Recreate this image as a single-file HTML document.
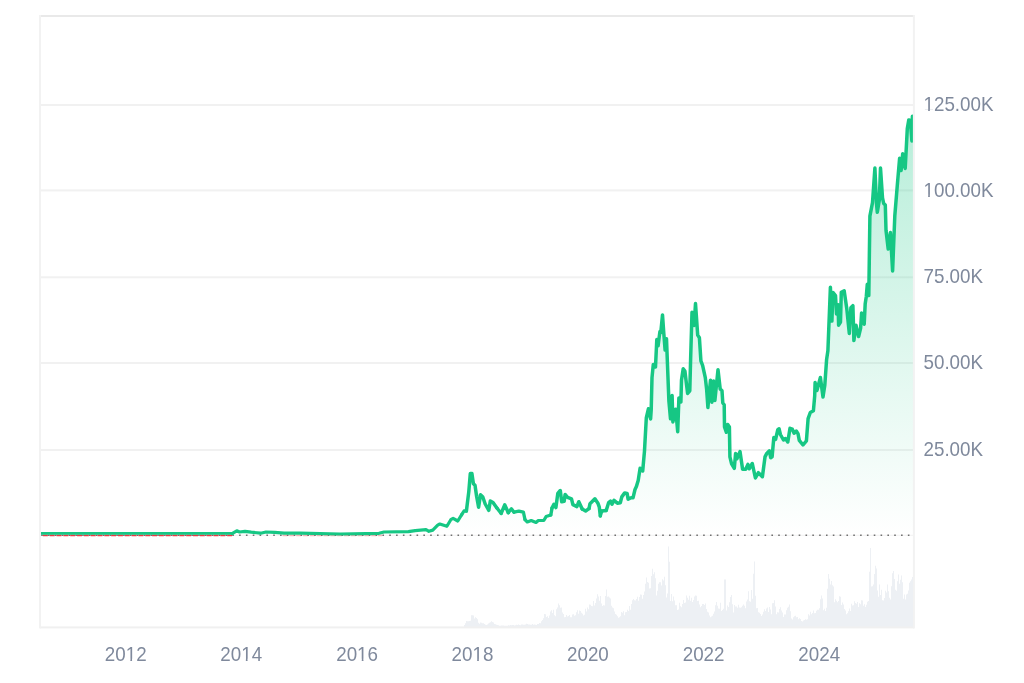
<!DOCTYPE html>
<html><head><meta charset="utf-8">
<style>
html,body{margin:0;padding:0;background:#fff;width:1024px;height:683px;overflow:hidden}
svg{display:block;font-family:"Liberation Sans",sans-serif}
.lab{will-change:transform} .lab text{fill:#7f899c;font-size:20px}
</style></head><body>
<svg width="1024" height="683" viewBox="0 0 1024 683">
<defs>
<linearGradient id="g" x1="0" y1="104" x2="0" y2="535.5" gradientUnits="userSpaceOnUse">
<stop offset="0" stop-color="#16c784" stop-opacity="0.32"/>
<stop offset="1" stop-color="#16c784" stop-opacity="0"/>
</linearGradient>
<clipPath id="c"><rect x="40" y="16" width="873.5" height="611"/></clipPath>
</defs>
<rect x="0" y="0" width="1024" height="683" fill="#fff"/>
<g fill="#f1f1f1">
<rect x="40" y="104.00" width="874" height="2"/>
<rect x="40" y="189.40" width="874" height="2"/>
<rect x="40" y="276.30" width="874" height="2"/>
<rect x="40" y="362.00" width="874" height="2"/>
<rect x="40" y="449.00" width="874" height="2"/>
</g>
<path d="M464.00,627.40V624.95H465.00V627.40ZM465.00,627.40V623.29H466.00V627.40ZM466.00,627.40V621.06H467.00V627.40ZM467.00,627.40V621.28H468.00V627.40ZM468.00,627.40V621.19H469.00V627.40ZM469.00,627.40V621.03H470.00V627.40ZM470.00,627.40V620.68H471.00V627.40ZM471.00,627.40V615.36H472.00V627.40ZM472.00,627.40V615.14H473.00V627.40ZM473.00,627.40V615.53H474.00V627.40ZM474.00,627.40V618.57H475.00V627.40ZM475.00,627.40V617.34H476.00V627.40ZM476.00,627.40V617.96H477.00V627.40ZM477.00,627.40V619.20H478.00V627.40ZM478.00,627.40V622.69H479.00V627.40ZM479.00,627.40V623.71H480.00V627.40ZM480.00,627.40V622.50H481.00V627.40ZM481.00,627.40V622.63H482.00V627.40ZM482.00,627.40V623.15H483.00V627.40ZM483.00,627.40V623.30H484.00V627.40ZM484.00,627.40V624.08H485.00V627.40ZM485.00,627.40V624.82H486.00V627.40ZM486.00,627.40V624.88H487.00V627.40ZM487.00,627.40V624.53H488.00V627.40ZM488.00,627.40V623.61H489.00V627.40ZM489.00,627.40V622.75H490.00V627.40ZM490.00,627.40V622.37H491.00V627.40ZM491.00,627.40V621.32H492.00V627.40ZM492.00,627.40V622.07H493.00V627.40ZM493.00,627.40V622.56H494.00V627.40ZM494.00,627.40V624.11H495.00V627.40ZM495.00,627.40V624.29H496.00V627.40ZM496.00,627.40V624.71H497.00V627.40ZM497.00,627.40V624.88H498.00V627.40ZM498.00,627.40V625.33H499.00V627.40ZM499.00,627.40V625.72H500.00V627.40ZM500.00,627.40V625.63H501.00V627.40ZM501.00,627.40V625.59H502.00V627.40ZM502.00,627.40V625.60H503.00V627.40ZM503.00,627.40V625.62H504.00V627.40ZM504.00,627.40V625.78H505.00V627.40ZM505.00,627.40V625.77H506.00V627.40ZM506.00,627.40V625.69H507.00V627.40ZM507.00,627.40V625.77H508.00V627.40ZM508.00,627.40V625.28H509.00V627.40ZM509.00,627.40V625.46H510.00V627.40ZM510.00,627.40V625.11H511.00V627.40ZM511.00,627.40V625.36H512.00V627.40ZM512.00,627.40V624.91H513.00V627.40ZM513.00,627.40V624.92H514.00V627.40ZM514.00,627.40V625.49H515.00V627.40ZM515.00,627.40V625.29H516.00V627.40ZM516.00,627.40V624.69H517.00V627.40ZM517.00,627.40V624.98H518.00V627.40ZM518.00,627.40V624.51H519.00V627.40ZM519.00,627.40V624.93H520.00V627.40ZM520.00,627.40V625.15H521.00V627.40ZM521.00,627.40V624.62H522.00V627.40ZM522.00,627.40V624.40H523.00V627.40ZM523.00,627.40V624.77H524.00V627.40ZM524.00,627.40V624.87H525.00V627.40ZM525.00,627.40V624.55H526.00V627.40ZM526.00,627.40V623.83H527.00V627.40ZM527.00,627.40V623.94H528.00V627.40ZM528.00,627.40V624.54H529.00V627.40ZM529.00,627.40V624.41H530.00V627.40ZM530.00,627.40V624.63H531.00V627.40ZM531.00,627.40V624.73H532.00V627.40ZM532.00,627.40V624.07H533.00V627.40ZM533.00,627.40V624.74H534.00V627.40ZM534.00,627.40V624.45H535.00V627.40ZM535.00,627.40V624.63H536.00V627.40ZM536.00,627.40V624.93H537.00V627.40ZM537.00,627.40V623.98H538.00V627.40ZM538.00,627.40V624.11H539.00V627.40ZM539.00,627.40V622.89H540.00V627.40ZM540.00,627.40V623.13H541.00V627.40ZM541.00,627.40V621.20H542.00V627.40ZM542.00,627.40V620.07H543.00V627.40ZM543.00,627.40V618.33H544.00V627.40ZM544.00,627.40V614.11H545.00V627.40ZM545.00,627.40V614.27H546.00V627.40ZM546.00,627.40V616.95H547.00V627.40ZM547.00,627.40V616.26H548.00V627.40ZM548.00,627.40V618.05H549.00V627.40ZM549.00,627.40V615.48H550.00V627.40ZM550.00,627.40V611.39H551.00V627.40ZM551.00,627.40V610.28H552.00V627.40ZM552.00,627.40V612.89H553.00V627.40ZM553.00,627.40V609.72H554.00V627.40ZM554.00,627.40V615.29H555.00V627.40ZM555.00,627.40V616.23H556.00V627.40ZM556.00,627.40V609.30H557.00V627.40ZM557.00,627.40V607.45H558.00V627.40ZM558.00,627.40V603.47H559.00V627.40ZM559.00,627.40V605.33H560.00V627.40ZM560.00,627.40V607.85H561.00V627.40ZM561.00,627.40V607.39H562.00V627.40ZM562.00,627.40V612.53H563.00V627.40ZM563.00,627.40V614.03H564.00V627.40ZM564.00,627.40V617.34H565.00V627.40ZM565.00,627.40V616.92H566.00V627.40ZM566.00,627.40V615.00H567.00V627.40ZM567.00,627.40V616.52H568.00V627.40ZM568.00,627.40V616.09H569.00V627.40ZM569.00,627.40V614.92H570.00V627.40ZM570.00,627.40V617.30H571.00V627.40ZM571.00,627.40V617.31H572.00V627.40ZM572.00,627.40V614.39H573.00V627.40ZM573.00,627.40V614.20H574.00V627.40ZM574.00,627.40V615.74H575.00V627.40ZM575.00,627.40V615.32H576.00V627.40ZM576.00,627.40V612.13H577.00V627.40ZM577.00,627.40V610.36H578.00V627.40ZM578.00,627.40V613.85H579.00V627.40ZM579.00,627.40V610.42H580.00V627.40ZM580.00,627.40V611.08H581.00V627.40ZM581.00,627.40V612.70H582.00V627.40ZM582.00,627.40V613.83H583.00V627.40ZM583.00,627.40V615.40H584.00V627.40ZM584.00,627.40V614.66H585.00V627.40ZM585.00,627.40V608.75H586.00V627.40ZM586.00,627.40V611.46H587.00V627.40ZM587.00,627.40V607.60H588.00V627.40ZM588.00,627.40V609.26H589.00V627.40ZM589.00,627.40V604.38H590.00V627.40ZM590.00,627.40V604.75H591.00V627.40ZM591.00,627.40V606.06H592.00V627.40ZM592.00,627.40V606.17H593.00V627.40ZM593.00,627.40V601.04H594.00V627.40ZM594.00,627.40V605.52H595.00V627.40ZM595.00,627.40V602.98H596.00V627.40ZM596.00,627.40V598.54H597.00V627.40ZM597.00,627.40V594.13H598.00V627.40ZM598.00,627.40V596.45H599.00V627.40ZM599.00,627.40V600.75H600.00V627.40ZM600.00,627.40V596.08H601.00V627.40ZM601.00,627.40V603.50H602.00V627.40ZM602.00,627.40V606.07H603.00V627.40ZM603.00,627.40V605.32H604.00V627.40ZM604.00,627.40V605.40H605.00V627.40ZM605.00,627.40V595.93H606.00V627.40ZM606.00,627.40V589.60H607.00V627.40ZM607.00,627.40V596.81H608.00V627.40ZM608.00,627.40V596.53H609.00V627.40ZM609.00,627.40V597.39H610.00V627.40ZM610.00,627.40V598.55H611.00V627.40ZM611.00,627.40V605.71H612.00V627.40ZM612.00,627.40V607.49H613.00V627.40ZM613.00,627.40V608.18H614.00V627.40ZM614.00,627.40V611.42H615.00V627.40ZM615.00,627.40V613.94H616.00V627.40ZM616.00,627.40V614.86H617.00V627.40ZM617.00,627.40V616.31H618.00V627.40ZM618.00,627.40V617.66H619.00V627.40ZM619.00,627.40V617.16H620.00V627.40ZM620.00,627.40V616.35H621.00V627.40ZM621.00,627.40V612.01H622.00V627.40ZM622.00,627.40V612.68H623.00V627.40ZM623.00,627.40V611.24H624.00V627.40ZM624.00,627.40V615.35H625.00V627.40ZM625.00,627.40V612.25H626.00V627.40ZM626.00,627.40V612.05H627.00V627.40ZM627.00,627.40V609.72H628.00V627.40ZM628.00,627.40V610.98H629.00V627.40ZM629.00,627.40V605.94H630.00V627.40ZM630.00,627.40V609.65H631.00V627.40ZM631.00,627.40V604.04H632.00V627.40ZM632.00,627.40V600.26H633.00V627.40ZM633.00,627.40V598.92H634.00V627.40ZM634.00,627.40V600.26H635.00V627.40ZM635.00,627.40V600.53H636.00V627.40ZM636.00,627.40V599.02H637.00V627.40ZM637.00,627.40V596.85H638.00V627.40ZM638.00,627.40V600.83H639.00V627.40ZM639.00,627.40V596.90H640.00V627.40ZM640.00,627.40V594.61H641.00V627.40ZM641.00,627.40V594.63H642.00V627.40ZM642.00,627.40V598.73H643.00V627.40ZM643.00,627.40V594.89H644.00V627.40ZM644.00,627.40V591.59H645.00V627.40ZM645.00,627.40V583.83H646.00V627.40ZM646.00,627.40V577.50H647.00V627.40ZM647.00,627.40V581.98H648.00V627.40ZM648.00,627.40V582.79H649.00V627.40ZM649.00,627.40V588.49H650.00V627.40ZM650.00,627.40V588.17H651.00V627.40ZM651.00,627.40V575.90H652.00V627.40ZM652.00,627.40V568.82H653.00V627.40ZM653.00,627.40V574.24H654.00V627.40ZM654.00,627.40V572.26H655.00V627.40ZM655.00,627.40V578.35H656.00V627.40ZM656.00,627.40V595.49H657.00V627.40ZM657.00,627.40V590.72H658.00V627.40ZM658.00,627.40V583.68H659.00V627.40ZM659.00,627.40V582.18H660.00V627.40ZM660.00,627.40V582.28H661.00V627.40ZM661.00,627.40V585.59H662.00V627.40ZM662.00,627.40V579.20H663.00V627.40ZM663.00,627.40V580.55H664.00V627.40ZM664.00,627.40V576.74H665.00V627.40ZM665.00,627.40V585.22H666.00V627.40ZM666.00,627.40V597.55H667.00V627.40ZM667.00,627.40V593.60H668.00V627.40ZM668.00,627.40V546.46H669.00V627.40ZM669.00,627.40V561.64H670.00V627.40ZM670.00,627.40V600.96H671.00V627.40ZM671.00,627.40V594.01H672.00V627.40ZM672.00,627.40V601.13H673.00V627.40ZM673.00,627.40V596.50H674.00V627.40ZM674.00,627.40V600.49H675.00V627.40ZM675.00,627.40V605.29H676.00V627.40ZM676.00,627.40V605.15H677.00V627.40ZM677.00,627.40V610.08H678.00V627.40ZM678.00,627.40V609.39H679.00V627.40ZM679.00,627.40V602.67H680.00V627.40ZM680.00,627.40V606.18H681.00V627.40ZM681.00,627.40V607.21H682.00V627.40ZM682.00,627.40V604.05H683.00V627.40ZM683.00,627.40V599.98H684.00V627.40ZM684.00,627.40V603.12H685.00V627.40ZM685.00,627.40V602.56H686.00V627.40ZM686.00,627.40V595.56H687.00V627.40ZM687.00,627.40V597.81H688.00V627.40ZM688.00,627.40V599.81H689.00V627.40ZM689.00,627.40V595.69H690.00V627.40ZM690.00,627.40V600.86H691.00V627.40ZM691.00,627.40V597.76H692.00V627.40ZM692.00,627.40V602.04H693.00V627.40ZM693.00,627.40V599.91H694.00V627.40ZM694.00,627.40V596.48H695.00V627.40ZM695.00,627.40V595.49H696.00V627.40ZM696.00,627.40V595.80H697.00V627.40ZM697.00,627.40V601.04H698.00V627.40ZM698.00,627.40V600.78H699.00V627.40ZM699.00,627.40V604.41H700.00V627.40ZM700.00,627.40V607.14H701.00V627.40ZM701.00,627.40V605.91H702.00V627.40ZM702.00,627.40V604.06H703.00V627.40ZM703.00,627.40V604.05H704.00V627.40ZM704.00,627.40V605.05H705.00V627.40ZM705.00,627.40V603.50H706.00V627.40ZM706.00,627.40V608.96H707.00V627.40ZM707.00,627.40V611.74H708.00V627.40ZM708.00,627.40V612.42H709.00V627.40ZM709.00,627.40V615.45H710.00V627.40ZM710.00,627.40V617.18H711.00V627.40ZM711.00,627.40V616.45H712.00V627.40ZM712.00,627.40V615.67H713.00V627.40ZM713.00,627.40V613.70H714.00V627.40ZM714.00,627.40V611.61H715.00V627.40ZM715.00,627.40V605.34H716.00V627.40ZM716.00,627.40V601.93H717.00V627.40ZM717.00,627.40V605.72H718.00V627.40ZM718.00,627.40V608.43H719.00V627.40ZM719.00,627.40V608.74H720.00V627.40ZM720.00,627.40V602.71H721.00V627.40ZM721.00,627.40V610.98H722.00V627.40ZM722.00,627.40V610.09H723.00V627.40ZM723.00,627.40V608.86H724.00V627.40ZM724.00,627.40V579.50H725.00V627.40ZM725.00,627.40V579.50H726.00V627.40ZM726.00,627.40V610.39H727.00V627.40ZM727.00,627.40V605.58H728.00V627.40ZM728.00,627.40V606.98H729.00V627.40ZM729.00,627.40V602.30H730.00V627.40ZM730.00,627.40V597.01H731.00V627.40ZM731.00,627.40V595.01H732.00V627.40ZM732.00,627.40V604.30H733.00V627.40ZM733.00,627.40V612.50H734.00V627.40ZM734.00,627.40V605.02H735.00V627.40ZM735.00,627.40V606.56H736.00V627.40ZM736.00,627.40V606.42H737.00V627.40ZM737.00,627.40V607.79H738.00V627.40ZM738.00,627.40V604.86H739.00V627.40ZM739.00,627.40V607.49H740.00V627.40ZM740.00,627.40V607.70H741.00V627.40ZM741.00,627.40V607.24H742.00V627.40ZM742.00,627.40V605.83H743.00V627.40ZM743.00,627.40V604.39H744.00V627.40ZM744.00,627.40V605.73H745.00V627.40ZM745.00,627.40V608.19H746.00V627.40ZM746.00,627.40V601.44H747.00V627.40ZM747.00,627.40V599.60H748.00V627.40ZM748.00,627.40V591.30H749.00V627.40ZM749.00,627.40V601.25H750.00V627.40ZM750.00,627.40V601.74H751.00V627.40ZM751.00,627.40V590.12H752.00V627.40ZM752.00,627.40V598.82H753.00V627.40ZM753.00,627.40V573.65H754.00V627.40ZM754.00,627.40V561.39H755.00V627.40ZM755.00,627.40V595.80H756.00V627.40ZM756.00,627.40V608.34H757.00V627.40ZM757.00,627.40V608.05H758.00V627.40ZM758.00,627.40V612.23H759.00V627.40ZM759.00,627.40V612.78H760.00V627.40ZM760.00,627.40V614.09H761.00V627.40ZM761.00,627.40V616.07H762.00V627.40ZM762.00,627.40V614.43H763.00V627.40ZM763.00,627.40V611.72H764.00V627.40ZM764.00,627.40V609.24H765.00V627.40ZM765.00,627.40V610.98H766.00V627.40ZM766.00,627.40V608.50H767.00V627.40ZM767.00,627.40V607.57H768.00V627.40ZM768.00,627.40V612.02H769.00V627.40ZM769.00,627.40V606.99H770.00V627.40ZM770.00,627.40V609.60H771.00V627.40ZM771.00,627.40V614.33H772.00V627.40ZM772.00,627.40V603.17H773.00V627.40ZM773.00,627.40V603.02H774.00V627.40ZM774.00,627.40V600.16H775.00V627.40ZM775.00,627.40V606.38H776.00V627.40ZM776.00,627.40V614.15H777.00V627.40ZM777.00,627.40V612.19H778.00V627.40ZM778.00,627.40V612.38H779.00V627.40ZM779.00,627.40V609.11H780.00V627.40ZM780.00,627.40V607.30H781.00V627.40ZM781.00,627.40V610.50H782.00V627.40ZM782.00,627.40V612.60H783.00V627.40ZM783.00,627.40V616.97H784.00V627.40ZM784.00,627.40V614.41H785.00V627.40ZM785.00,627.40V614.55H786.00V627.40ZM786.00,627.40V610.20H787.00V627.40ZM787.00,627.40V607.68H788.00V627.40ZM788.00,627.40V606.80H789.00V627.40ZM789.00,627.40V604.50H790.00V627.40ZM790.00,627.40V611.17H791.00V627.40ZM791.00,627.40V618.59H792.00V627.40ZM792.00,627.40V619.61H793.00V627.40ZM793.00,627.40V617.14H794.00V627.40ZM794.00,627.40V616.33H795.00V627.40ZM795.00,627.40V615.77H796.00V627.40ZM796.00,627.40V617.22H797.00V627.40ZM797.00,627.40V617.09H798.00V627.40ZM798.00,627.40V619.13H799.00V627.40ZM799.00,627.40V618.17H800.00V627.40ZM800.00,627.40V619.03H801.00V627.40ZM801.00,627.40V620.88H802.00V627.40ZM802.00,627.40V621.49H803.00V627.40ZM803.00,627.40V620.50H804.00V627.40ZM804.00,627.40V620.05H805.00V627.40ZM805.00,627.40V619.32H806.00V627.40ZM806.00,627.40V619.80H807.00V627.40ZM807.00,627.40V619.16H808.00V627.40ZM808.00,627.40V614.13H809.00V627.40ZM809.00,627.40V615.56H810.00V627.40ZM810.00,627.40V611.78H811.00V627.40ZM811.00,627.40V614.30H812.00V627.40ZM812.00,627.40V613.12H813.00V627.40ZM813.00,627.40V610.42H814.00V627.40ZM814.00,627.40V613.31H815.00V627.40ZM815.00,627.40V612.89H816.00V627.40ZM816.00,627.40V610.66H817.00V627.40ZM817.00,627.40V609.71H818.00V627.40ZM818.00,627.40V609.80H819.00V627.40ZM819.00,627.40V608.28H820.00V627.40ZM820.00,627.40V599.17H821.00V627.40ZM821.00,627.40V595.52H822.00V627.40ZM822.00,627.40V598.42H823.00V627.40ZM823.00,627.40V610.30H824.00V627.40ZM824.00,627.40V608.73H825.00V627.40ZM825.00,627.40V610.95H826.00V627.40ZM826.00,627.40V607.63H827.00V627.40ZM827.00,627.40V588.69H828.00V627.40ZM828.00,627.40V574.11H829.00V627.40ZM829.00,627.40V578.79H830.00V627.40ZM830.00,627.40V584.53H831.00V627.40ZM831.00,627.40V581.07H832.00V627.40ZM832.00,627.40V585.37H833.00V627.40ZM833.00,627.40V586.58H834.00V627.40ZM834.00,627.40V602.37H835.00V627.40ZM835.00,627.40V599.29H836.00V627.40ZM836.00,627.40V600.85H837.00V627.40ZM837.00,627.40V602.23H838.00V627.40ZM838.00,627.40V600.89H839.00V627.40ZM839.00,627.40V596.28H840.00V627.40ZM840.00,627.40V596.79H841.00V627.40ZM841.00,627.40V605.05H842.00V627.40ZM842.00,627.40V602.54H843.00V627.40ZM843.00,627.40V604.43H844.00V627.40ZM844.00,627.40V609.11H845.00V627.40ZM845.00,627.40V610.58H846.00V627.40ZM846.00,627.40V614.13H847.00V627.40ZM847.00,627.40V613.26H848.00V627.40ZM848.00,627.40V611.26H849.00V627.40ZM849.00,627.40V608.50H850.00V627.40ZM850.00,627.40V610.91H851.00V627.40ZM851.00,627.40V603.65H852.00V627.40ZM852.00,627.40V605.58H853.00V627.40ZM853.00,627.40V605.32H854.00V627.40ZM854.00,627.40V601.24H855.00V627.40ZM855.00,627.40V603.09H856.00V627.40ZM856.00,627.40V603.65H857.00V627.40ZM857.00,627.40V602.10H858.00V627.40ZM858.00,627.40V606.94H859.00V627.40ZM859.00,627.40V603.28H860.00V627.40ZM860.00,627.40V604.27H861.00V627.40ZM861.00,627.40V600.18H862.00V627.40ZM862.00,627.40V600.56H863.00V627.40ZM863.00,627.40V605.69H864.00V627.40ZM864.00,627.40V604.23H865.00V627.40ZM865.00,627.40V606.96H866.00V627.40ZM866.00,627.40V604.68H867.00V627.40ZM867.00,627.40V601.79H868.00V627.40ZM868.00,627.40V600.96H869.00V627.40ZM869.00,627.40V571.65H870.00V627.40ZM870.00,627.40V547.89H871.00V627.40ZM871.00,627.40V586.60H872.00V627.40ZM872.00,627.40V586.18H873.00V627.40ZM873.00,627.40V584.60H874.00V627.40ZM874.00,627.40V574.08H875.00V627.40ZM875.00,627.40V565.74H876.00V627.40ZM876.00,627.40V568.57H877.00V627.40ZM877.00,627.40V590.43H878.00V627.40ZM878.00,627.40V596.64H879.00V627.40ZM879.00,627.40V584.40H880.00V627.40ZM880.00,627.40V594.88H881.00V627.40ZM881.00,627.40V589.66H882.00V627.40ZM882.00,627.40V600.19H883.00V627.40ZM883.00,627.40V600.54H884.00V627.40ZM884.00,627.40V598.05H885.00V627.40ZM885.00,627.40V590.70H886.00V627.40ZM886.00,627.40V592.56H887.00V627.40ZM887.00,627.40V584.40H888.00V627.40ZM888.00,627.40V591.14H889.00V627.40ZM889.00,627.40V597.87H890.00V627.40ZM890.00,627.40V599.41H891.00V627.40ZM891.00,627.40V586.27H892.00V627.40ZM892.00,627.40V573.13H893.00V627.40ZM893.00,627.40V571.03H894.00V627.40ZM894.00,627.40V579.04H895.00V627.40ZM895.00,627.40V589.72H896.00V627.40ZM896.00,627.40V590.84H897.00V627.40ZM897.00,627.40V581.29H898.00V627.40ZM898.00,627.40V574.51H899.00V627.40ZM899.00,627.40V583.83H900.00V627.40ZM900.00,627.40V579.70H901.00V627.40ZM901.00,627.40V575.39H902.00V627.40ZM902.00,627.40V582.31H903.00V627.40ZM903.00,627.40V598.81H904.00V627.40ZM904.00,627.40V594.41H905.00V627.40ZM905.00,627.40V599.58H906.00V627.40ZM906.00,627.40V594.54H907.00V627.40ZM907.00,627.40V593.69H908.00V627.40ZM908.00,627.40V590.49H909.00V627.40ZM909.00,627.40V582.85H910.00V627.40ZM910.00,627.40V581.35H911.00V627.40ZM911.00,627.40V579.51H912.00V627.40ZM912.00,627.40V576.92H913.00V627.40Z" fill="#edf0f4"/>
<g clip-path="url(#c)">
<path d="M40.0,533.4 L100.0,533.4 L150.0,533.4 L200.0,533.4 L220.0,533.4 L232.5,533.4 L236.8,530.8 L239.5,532.0 L245.0,531.4 L251.2,532.2 L260.6,533.2 L266.0,532.0 L274.7,532.4 L284.0,533.2 L300.0,533.2 L340.0,534.0 L379.0,533.3 L384.0,532.0 L408.4,531.6 L415.2,530.6 L426.0,529.6 L428.9,531.3 L432.8,530.1 L437.7,525.1 L439.8,524.0 L446.9,526.3 L450.8,519.7 L453.1,518.4 L457.8,521.0 L461.7,514.7 L464.0,511.0 L466.4,511.0 L468.8,491.6 L470.3,473.6 L471.9,473.6 L473.4,483.8 L475.0,485.3 L476.6,496.2 L478.6,507.2 L480.5,494.7 L482.8,497.0 L485.2,504.0 L488.8,510.3 L490.3,501.0 L493.0,502.5 L496.9,508.0 L501.2,513.4 L504.7,504.8 L508.3,512.7 L511.4,508.8 L514.0,512.2 L518.8,511.1 L523.4,512.2 L525.0,519.7 L527.3,522.0 L531.2,520.5 L536.0,522.5 L538.3,520.5 L543.8,520.5 L546.1,516.6 L550.8,515.0 L552.0,508.1 L553.9,504.2 L555.9,507.6 L557.8,493.4 L560.3,490.5 L561.7,501.7 L564.2,501.2 L565.1,494.4 L567.6,497.3 L571.5,498.8 L572.9,504.7 L576.9,506.6 L578.8,501.7 L582.2,509.1 L585.6,511.0 L589.0,508.6 L590.0,503.7 L594.9,498.8 L597.9,503.2 L599.3,507.1 L600.3,515.9 L601.8,511.0 L606.2,510.5 L608.6,502.7 L610.5,501.2 L612.0,504.2 L614.0,500.3 L617.4,503.2 L620.3,502.7 L621.8,496.9 L624.7,492.9 L627.1,493.4 L628.1,499.3 L631.1,497.8 L633.0,497.8 L635.0,489.5 L636.4,486.6 L638.2,480.5 L640.1,468.3 L642.7,471.0 L644.5,450.8 L646.3,418.0 L648.4,408.8 L650.6,419.0 L651.2,410.0 L652.0,377.6 L653.3,364.4 L655.5,367.0 L656.8,339.5 L658.1,345.7 L659.9,331.6 L660.8,332.5 L662.5,314.9 L663.8,333.4 L665.1,350.0 L666.5,338.7 L667.3,360.0 L668.9,401.1 L670.5,418.8 L672.1,395.5 L672.9,422.0 L675.7,409.2 L677.7,431.7 L678.9,397.9 L680.9,401.9 L681.5,380.0 L683.2,368.8 L684.9,371.0 L687.6,393.4 L689.8,390.8 L690.6,360.0 L692.0,312.3 L694.1,325.5 L695.5,303.5 L697.7,335.1 L699.4,337.8 L700.9,360.9 L702.6,365.3 L705.3,377.6 L706.6,389.0 L707.9,407.5 L710.5,380.2 L711.9,402.2 L713.6,381.1 L714.9,400.4 L718.0,369.7 L720.2,389.0 L722.0,390.8 L722.8,403.0 L724.2,404.8 L724.5,427.0 L726.4,432.3 L727.7,424.4 L729.4,427.0 L729.9,456.9 L731.6,463.9 L734.3,468.3 L735.6,453.4 L736.9,458.7 L740.0,451.6 L742.6,469.2 L745.7,469.2 L747.9,464.4 L749.2,468.8 L752.3,463.5 L755.4,478.0 L758.4,472.7 L762.4,476.7 L765.0,456.9 L766.8,453.4 L769.4,450.8 L770.7,457.8 L772.1,456.9 L773.8,437.6 L775.6,439.3 L777.8,429.7 L779.1,428.8 L780.4,434.5 L783.5,440.0 L785.5,438.5 L787.8,442.0 L790.0,428.3 L792.3,429.2 L794.1,433.2 L796.3,431.0 L798.0,433.6 L799.3,440.4 L803.0,445.0 L806.4,440.9 L808.1,418.7 L810.3,412.5 L813.4,410.8 L814.7,395.8 L815.1,382.6 L816.9,390.5 L820.4,377.5 L823.0,397.1 L824.8,385.3 L826.6,359.5 L827.9,350.8 L830.4,287.3 L831.9,321.1 L832.9,292.4 L835.5,295.5 L836.5,313.9 L838.1,304.7 L838.6,325.2 L840.5,322.0 L841.3,292.4 L844.2,290.9 L846.8,308.8 L849.3,333.4 L850.9,307.8 L852.9,305.7 L853.9,340.6 L856.0,325.2 L858.6,336.5 L860.6,328.3 L861.6,312.9 L864.2,324.2 L865.2,303.7 L866.3,296.5 L867.3,284.2 L868.8,295.5 L869.9,216.1 L872.5,202.7 L874.9,168.0 L876.5,203.5 L877.3,212.3 L879.3,200.3 L880.5,168.0 L882.5,197.8 L883.7,203.5 L885.3,205.1 L886.0,230.3 L888.2,249.0 L890.4,232.5 L892.6,271.0 L894.8,216.0 L897.4,184.2 L899.6,158.3 L901.1,170.6 L902.7,153.7 L905.2,168.5 L907.3,128.6 L908.8,119.9 L910.3,120.4 L911.9,140.9 L912.4,116.3 L913.0,140.0 L913.5,535.7 L40,535.7 Z" fill="url(#g)"/>
<line x1="41" y1="535.25" x2="913" y2="535.25" stroke="#f1f1f1" stroke-width="1"/>
<line x1="41.21" y1="535.25" x2="913" y2="535.25" stroke="#707070" stroke-width="1.6" stroke-dasharray="1.6,5.224"/>
<g stroke="#ea3943" stroke-width="1.8" stroke-dasharray="5,1.824">
<line x1="36.05" y1="535.3" x2="234" y2="535.3"/>
<line x1="282.52" y1="535.3" x2="382" y2="535.3" stroke-opacity="0.35"/>
</g>
<g fill="none" stroke="#16c784" stroke-linejoin="round" stroke-linecap="round">
<path d="M40.0,533.4 L100.0,533.4 L150.0,533.4 L200.0,533.4 L220.0,533.4 L232.5,533.4" stroke-width="2.7"/>
<path d="M232.5,533.4 L236.8,530.8 L239.5,532.0 L245.0,531.4 L251.2,532.2 L260.6,533.2 L266.0,532.0 L274.7,532.4 L284.0,533.2 L300.0,533.2 L340.0,534.0 L379.0,533.3 L384.0,532.0 L408.4,531.6 L415.2,530.6 L426.0,529.6 L428.9,531.3 L432.8,530.1 L437.7,525.1 L439.8,524.0 L446.9,526.3 L450.8,519.7 L453.1,518.4 L457.8,521.0 L461.7,514.7" stroke-width="3.2"/>
<path d="M461.7,514.7 L464.0,511.0 L466.4,511.0" stroke-width="3.3"/>
<path d="M466.4,511.0 L468.8,491.6 L470.3,473.6 L471.9,473.6 L473.4,483.8 L475.0,485.3 L476.6,496.2 L478.6,507.2 L480.5,494.7 L482.8,497.0 L485.2,504.0 L488.8,510.3 L490.3,501.0 L493.0,502.5 L496.9,508.0" stroke-width="3.5"/>
<path d="M496.9,508.0 L501.2,513.4" stroke-width="3.4"/>
<path d="M501.2,513.4 L504.7,504.8 L508.3,512.7" stroke-width="3.5"/>
<path d="M508.3,512.7 L511.4,508.8 L514.0,512.2" stroke-width="3.4"/>
<path d="M514.0,512.2 L518.8,511.1 L523.4,512.2 L525.0,519.7" stroke-width="3.3"/>
<path d="M525.0,519.7 L527.3,522.0 L531.2,520.5 L536.0,522.5 L538.3,520.5 L543.8,520.5 L546.1,516.6 L550.8,515.0" stroke-width="3.2"/>
<path d="M550.8,515.0 L552.0,508.1" stroke-width="3.4"/>
<path d="M552.0,508.1 L553.9,504.2 L555.9,507.6 L557.8,493.4 L560.3,490.5 L561.7,501.7 L564.2,501.2 L565.1,494.4 L567.6,497.3 L571.5,498.8 L572.9,504.7 L576.9,506.6 L578.8,501.7 L582.2,509.1" stroke-width="3.5"/>
<path d="M582.2,509.1 L585.6,511.0 L589.0,508.6" stroke-width="3.4"/>
<path d="M589.0,508.6 L590.0,503.7 L594.9,498.8 L597.9,503.2 L599.3,507.1 L600.3,515.9" stroke-width="3.5"/>
<path d="M600.3,515.9 L601.8,511.0" stroke-width="3.3"/>
<path d="M601.8,511.0 L606.2,510.5" stroke-width="3.4"/>
<path d="M606.2,510.5 L608.6,502.7 L610.5,501.2 L612.0,504.2 L614.0,500.3 L617.4,503.2 L620.3,502.7 L621.8,496.9 L624.7,492.9 L627.1,493.4 L628.1,499.3 L631.1,497.8 L633.0,497.8 L635.0,489.5 L636.4,486.6 L638.2,480.5 L640.1,468.3 L642.7,471.0 L644.5,450.8 L646.3,418.0 L648.4,408.8 L650.6,419.0 L651.2,410.0 L652.0,377.6 L653.3,364.4 L655.5,367.0 L656.8,339.5 L658.1,345.7 L659.9,331.6 L660.8,332.5 L662.5,314.9 L663.8,333.4 L665.1,350.0 L666.5,338.7 L667.3,360.0 L668.9,401.1 L670.5,418.8 L672.1,395.5 L672.9,422.0 L675.7,409.2 L677.7,431.7 L678.9,397.9 L680.9,401.9 L681.5,380.0 L683.2,368.8 L684.9,371.0 L687.6,393.4 L689.8,390.8 L690.6,360.0 L692.0,312.3 L694.1,325.5 L695.5,303.5 L697.7,335.1 L699.4,337.8 L700.9,360.9 L702.6,365.3 L705.3,377.6 L706.6,389.0 L707.9,407.5 L710.5,380.2 L711.9,402.2 L713.6,381.1 L714.9,400.4 L718.0,369.7 L720.2,389.0 L722.0,390.8 L722.8,403.0 L724.2,404.8 L724.5,427.0 L726.4,432.3 L727.7,424.4 L729.4,427.0 L729.9,456.9 L731.6,463.9 L734.3,468.3 L735.6,453.4 L736.9,458.7 L740.0,451.6 L742.6,469.2 L745.7,469.2 L747.9,464.4 L749.2,468.8 L752.3,463.5 L755.4,478.0 L758.4,472.7 L762.4,476.7 L765.0,456.9 L766.8,453.4 L769.4,450.8 L770.7,457.8 L772.1,456.9 L773.8,437.6 L775.6,439.3 L777.8,429.7 L779.1,428.8 L780.4,434.5 L783.5,440.0 L785.5,438.5 L787.8,442.0 L790.0,428.3 L792.3,429.2 L794.1,433.2 L796.3,431.0 L798.0,433.6 L799.3,440.4 L803.0,445.0 L806.4,440.9 L808.1,418.7 L810.3,412.5 L813.4,410.8 L814.7,395.8 L815.1,382.6 L816.9,390.5 L820.4,377.5 L823.0,397.1 L824.8,385.3 L826.6,359.5 L827.9,350.8 L830.4,287.3 L831.9,321.1 L832.9,292.4 L835.5,295.5 L836.5,313.9 L838.1,304.7 L838.6,325.2 L840.5,322.0 L841.3,292.4 L844.2,290.9 L846.8,308.8 L849.3,333.4 L850.9,307.8 L852.9,305.7 L853.9,340.6 L856.0,325.2 L858.6,336.5 L860.6,328.3 L861.6,312.9 L864.2,324.2 L865.2,303.7 L866.3,296.5 L867.3,284.2 L868.8,295.5 L869.9,216.1 L872.5,202.7 L874.9,168.0 L876.5,203.5 L877.3,212.3 L879.3,200.3 L880.5,168.0 L882.5,197.8 L883.7,203.5 L885.3,205.1 L886.0,230.3 L888.2,249.0 L890.4,232.5 L892.6,271.0 L894.8,216.0 L897.4,184.2 L899.6,158.3 L901.1,170.6 L902.7,153.7 L905.2,168.5 L907.3,128.6 L908.8,119.9 L910.3,120.4 L911.9,140.9 L912.4,116.3 L913.0,140.0" stroke-width="3.5"/>
</g>
</g>
<rect x="40" y="15" width="874" height="2" fill="#e9e9e9"/>
<rect x="40" y="626.4" width="874" height="2" fill="#f0f0f0"/>
<rect x="39" y="15" width="2" height="613.4" fill="#f2f2f2"/>
<rect x="912.9" y="15" width="2" height="613.4" fill="#f2f2f2"/>
<g class="lab">
<g transform="translate(923.5,111.2) scale(0.94,1)"><text x="0" y="0">125.00K</text></g>
<g transform="translate(923.5,196.6) scale(0.94,1)"><text x="0" y="0">100.00K</text></g>
<g transform="translate(923.5,283.3) scale(0.94,1)"><text x="0" y="0">75.00K</text></g>
<g transform="translate(923.5,368.9) scale(0.94,1)"><text x="0" y="0">50.00K</text></g>
<g transform="translate(923.5,456.2) scale(0.94,1)"><text x="0" y="0">25.00K</text></g>
<g transform="translate(125.7,660.7) scale(0.94,1)"><text x="0" y="0" text-anchor="middle">2012</text></g>
<g transform="translate(241.2,660.7) scale(0.94,1)"><text x="0" y="0" text-anchor="middle">2014</text></g>
<g transform="translate(357.1,660.7) scale(0.94,1)"><text x="0" y="0" text-anchor="middle">2016</text></g>
<g transform="translate(472.5,660.7) scale(0.94,1)"><text x="0" y="0" text-anchor="middle">2018</text></g>
<g transform="translate(587.9,660.7) scale(0.94,1)"><text x="0" y="0" text-anchor="middle">2020</text></g>
<g transform="translate(703.6,660.7) scale(0.94,1)"><text x="0" y="0" text-anchor="middle">2022</text></g>
<g transform="translate(819.2,660.7) scale(0.94,1)"><text x="0" y="0" text-anchor="middle">2024</text></g>
</g>
<g fill="#fff"><rect x="126.08" y="658.80" width="4.27" height="2.50"/><rect x="132.05" y="658.80" width="4.17" height="2.50"/><rect x="241.58" y="658.80" width="4.27" height="2.50"/><rect x="247.55" y="658.80" width="4.17" height="2.50"/><rect x="357.48" y="658.80" width="4.27" height="2.50"/><rect x="363.45" y="658.80" width="4.17" height="2.50"/><rect x="472.88" y="658.80" width="4.27" height="2.50"/><rect x="478.85" y="658.80" width="4.17" height="2.50"/><rect x="923.88" y="109.30" width="4.27" height="2.50"/><rect x="929.85" y="109.30" width="4.17" height="2.50"/><rect x="923.88" y="194.70" width="4.27" height="2.50"/><rect x="929.85" y="194.70" width="4.17" height="2.50"/></g>
</svg>
</body></html>
